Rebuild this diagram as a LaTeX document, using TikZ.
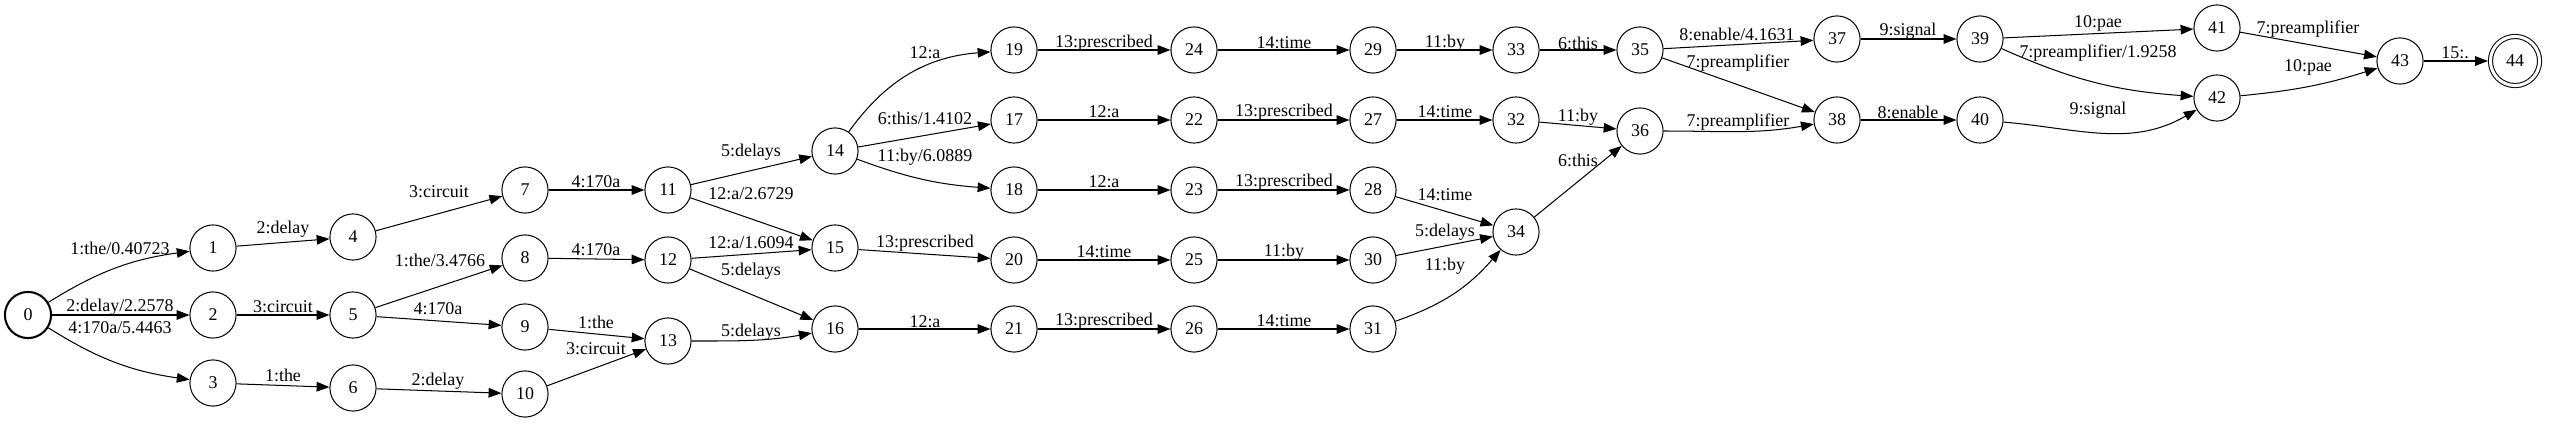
\documentclass[tikz,border=0pt]{standalone}
\usepackage{fontspec}
\setmainfont{Liberation Serif}
\usetikzlibrary{arrows.meta}
\tikzset{
  stato/.style = {circle, draw, line width=0.8pt, minimum size=36pt, inner sep=0, font=\fontsize{14}{16}\selectfont},
  iniz/.style  = {stato, line width=1.6pt},
  fin/.style   = {stato, double, double distance=2.4pt, minimum size=38.3pt, outer sep=2pt},
  arco/.style  = {line width=0.8pt, -{Triangle[length=10pt,width=7.5pt]}},
  et/.style    = {font=\fontsize{14}{16}\selectfont, inner sep=1pt}
}

\begin{document}
\begin{tikzpicture}[x=0.78pt, y=-0.78pt]
  \useasboundingbox (0,0) rectangle (2550,423);
  % stati
  \node[iniz]  (n0)  at (28,315) {0};
  \node[stato] (n1)  at (213,248) {1};  \node[stato] (n2)  at (213,315) {2};  \node[stato] (n3)  at (213,383) {3};
  \node[stato] (n4)  at (353,237) {4};  \node[stato] (n5)  at (353,315) {5};  \node[stato] (n6)  at (353,388) {6};
  \node[stato] (n7)  at (525,190) {7};  \node[stato] (n8)  at (525,258) {8};  \node[stato] (n9)  at (525,327) {9};
  \node[stato] (n10) at (525,394) {10};
  \node[stato] (n11) at (668,190) {11}; \node[stato] (n12) at (668,260) {12}; \node[stato] (n13) at (668,341) {13};
  \node[stato] (n14) at (835,151) {14}; \node[stato] (n15) at (835,248) {15}; \node[stato] (n16) at (835,329) {16};
  \node[stato] (n19) at (1014,50) {19}; \node[stato] (n17) at (1014,120) {17}; \node[stato] (n18) at (1014,190) {18};
  \node[stato] (n20) at (1014,260) {20}; \node[stato] (n21) at (1014,329) {21};
  \node[stato] (n24) at (1194,50) {24}; \node[stato] (n22) at (1194,120) {22}; \node[stato] (n23) at (1194,190) {23};
  \node[stato] (n25) at (1194,260) {25}; \node[stato] (n26) at (1194,329) {26};
  \node[stato] (n29) at (1373,50) {29}; \node[stato] (n27) at (1373,120) {27}; \node[stato] (n28) at (1373,190) {28};
  \node[stato] (n30) at (1373,260) {30}; \node[stato] (n31) at (1373,329) {31};
  \node[stato] (n33) at (1516,50) {33}; \node[stato] (n32) at (1516,120) {32}; \node[stato] (n34) at (1516,232) {34};
  \node[stato] (n35) at (1640,50) {35}; \node[stato] (n36) at (1640,131) {36};
  \node[stato] (n37) at (1837,39) {37}; \node[stato] (n38) at (1837,120) {38};
  \node[stato] (n39) at (1980,39) {39}; \node[stato] (n40) at (1980,120) {40};
  \node[stato] (n41) at (2217,28) {41}; \node[stato] (n42) at (2217,98) {42};
  \node[stato] (n43) at (2400,61) {43};
  \node[fin]   (n44) at (2515,61) {44};
  % archi
  \draw[arco] (n0) to[bend left=12] (n1) node[et] at (120,248) {1:the/0.40723};
  \draw[arco] (n0) -- (n2) node[et] at (120,307) {2:delay/2.2578};
  \draw[arco] (n0) to[bend right=12] (n3) node[et] at (120,328) {4:170a/5.4463};
  \draw[arco] (n1) -- (n4) node[et] at (283,229) {2:delay};
  \draw[arco] (n2) -- (n5) node[et] at (283,307) {3:circuit};
  \draw[arco] (n3) -- (n6) node[et] at (283,375) {1:the};
  \draw[arco] (n4) -- (n7) node[et] at (439,192) {3:circuit};
  \draw[arco] (n5) -- (n8) node[et] at (440,260) {1:the/3.4766};
  \draw[arco] (n5) -- (n9) node[et] at (438,309) {4:170a};
  \draw[arco] (n6) -- (n10) node[et] at (438,381) {2:delay};
  \draw[arco] (n7) -- (n11) node[et] at (596,182) {4:170a};
  \draw[arco] (n8) -- (n12) node[et] at (596,250) {4:170a};
  \draw[arco] (n9) -- (n13) node[et] at (596,322) {1:the};
  \draw[arco] (n10) -- (n13) node[et] at (596,349) {3:circuit};
  \draw[arco] (n11) -- (n14) node[et] at (751,152) {5:delays};
  \draw[arco] (n11) -- (n15) node[et] at (751,194) {12:a/2.6729};
  \draw[arco] (n12) -- (n15) node[et] at (751,243) {12:a/1.6094};
  \draw[arco] (n12) -- (n16) node[et] at (751,271) {5:delays};
  \draw[arco] (n13) to[out=0, in=190] (n16) node[et] at (751,332) {5:delays};
  \draw[arco] (n14) to[bend left=25] (n19) node[et] at (925,53) {12:a};
  \draw[arco] (n14) -- (n17) node[et] at (925,118) {6:this/1.4102};
  \draw[arco] (n14) to[bend right=8] (n18) node[et] at (925,157) {11:by/6.0889};
  \draw[arco] (n15) -- (n20) node[et] at (925,243) {13:prescribed};
  \draw[arco] (n16) -- (n21) node[et] at (925,322) {12:a};
  \draw[arco] (n19) -- (n24) node[et] at (1104,43) {13:prescribed};
  \draw[arco] (n17) -- (n22) node[et] at (1104,112) {12:a};
  \draw[arco] (n18) -- (n23) node[et] at (1104,182) {12:a};
  \draw[arco] (n20) -- (n25) node[et] at (1104,252) {14:time};
  \draw[arco] (n21) -- (n26) node[et] at (1104,321) {13:prescribed};
  \draw[arco] (n24) -- (n29) node[et] at (1284,43) {14:time};
  \draw[arco] (n22) -- (n27) node[et] at (1284,112) {13:prescribed};
  \draw[arco] (n23) -- (n28) node[et] at (1284,182) {13:prescribed};
  \draw[arco] (n25) -- (n30) node[et] at (1284,252) {11:by};
  \draw[arco] (n26) -- (n31) node[et] at (1284,321) {14:time};
  \draw[arco] (n29) -- (n33) node[et] at (1445,43) {11:by};
  \draw[arco] (n27) -- (n32) node[et] at (1445,112) {14:time};
  \draw[arco] (n28) -- (n34) node[et] at (1445,195) {14:time};
  \draw[arco] (n30) -- (n34) node[et] at (1445,232) {5:delays};
  \draw[arco] (n31) to[bend right=15] (n34) node[et] at (1445,266) {11:by};
  \draw[arco] (n33) -- (n35) node[et] at (1578,43) {6:this};
  \draw[arco] (n32) -- (n36) node[et] at (1578,117) {11:by};
  \draw[arco] (n34) -- (n36) node[et] at (1578,160) {6:this};
  \draw[arco] (n35) -- (n37) node[et] at (1737,34) {8:enable/4.1631};
  \draw[arco] (n35) -- (n38) node[et] at (1738,63) {7:preamplifier};
  \draw[arco] (n36) to[out=0, in=190] (n38) node[et] at (1738,122) {7:preamplifier};
  \draw[arco] (n37) -- (n39) node[et] at (1908,31) {9:signal};
  \draw[arco] (n38) -- (n40) node[et] at (1908,112) {8:enable};
  \draw[arco] (n39) -- (n41) node[et] at (2098,23) {10:pae};
  \draw[arco] (n39) to[bend right=10] (n42) node[et] at (2098,53) {7:preamplifier/1.9258};
  \draw[arco] (n40) to[out=-5, in=210] (n42) node[et] at (2098,110) {9:signal};
  \draw[arco] (n41) -- (n43) node[et] at (2308,29) {7:preamplifier};
  \draw[arco] (n42) to[bend right=6] (n43) node[et] at (2308,67) {10:pae};
  \draw[arco] (n43) -- (n44) node[et] at (2455,53) {15:.};
\end{tikzpicture}
\end{document}
